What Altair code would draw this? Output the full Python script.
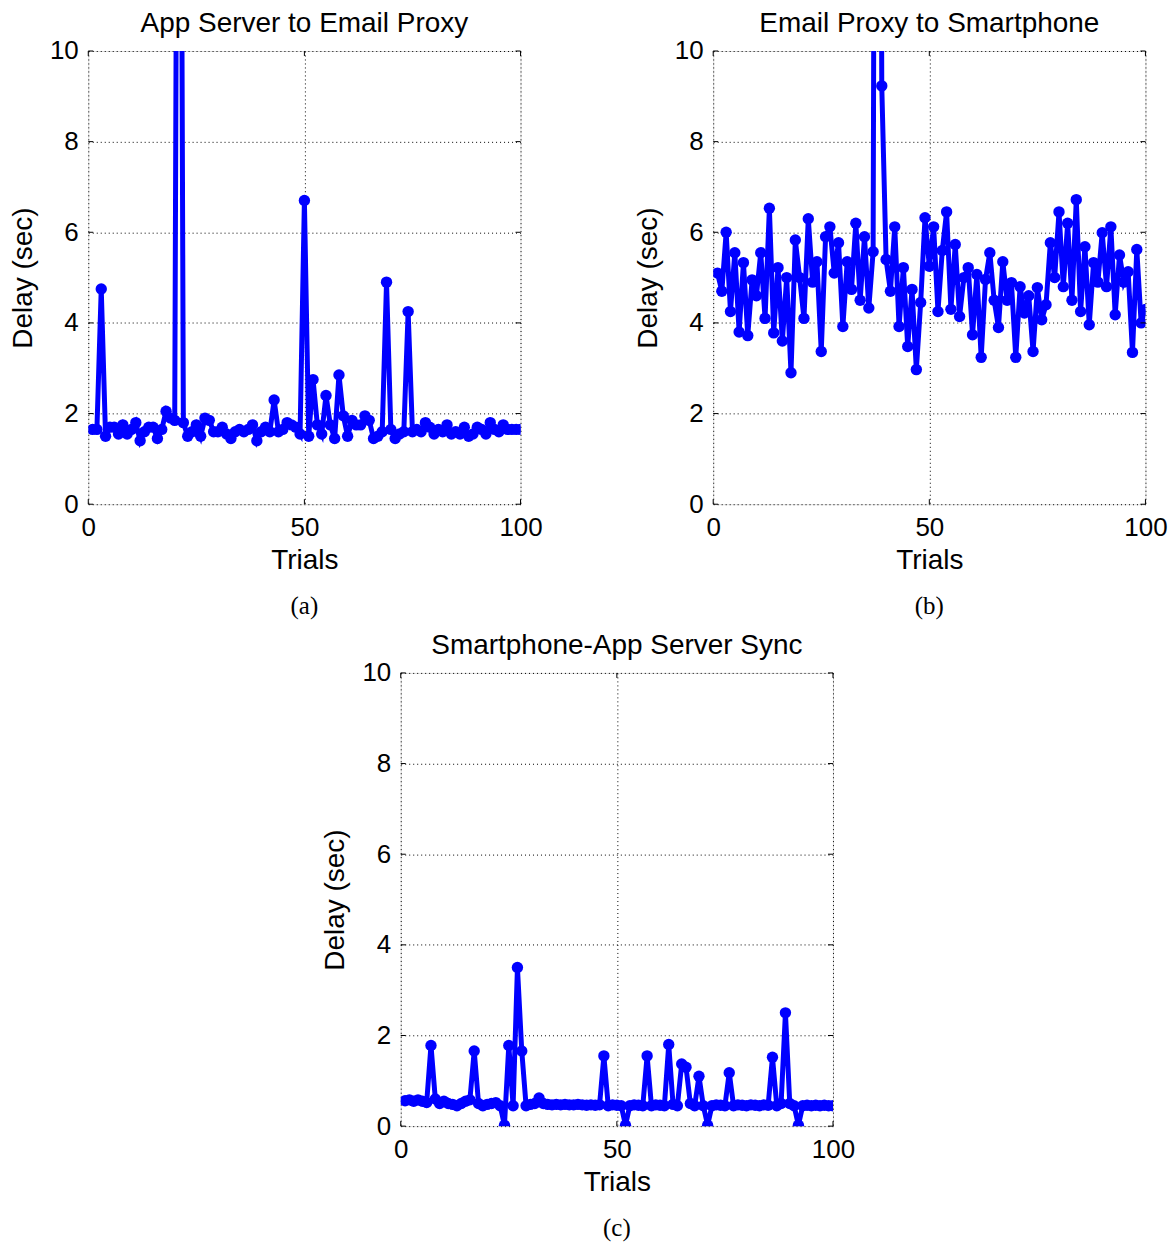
import altair as alt
import pandas as pd

trials = list(range(1, 101))

delay_a = [1.65, 1.65, 4.75, 1.5, 1.7, 1.7, 1.55, 1.75, 1.55, 1.65,
           1.8, 1.4, 1.6, 1.7, 1.7, 1.45, 1.65, 2.05, 1.9, 1.85,
           28.0, 1.8, 1.5, 1.6, 1.75, 1.5, 1.9, 1.85, 1.6, 1.6,
           1.7, 1.55, 1.45, 1.6, 1.65, 1.6, 1.65, 1.75, 1.4, 1.6,
           1.7, 1.6, 2.3, 1.6, 1.65, 1.8, 1.75, 1.7, 1.55, 6.7,
           1.5, 2.75, 1.75, 1.55, 2.4, 1.75, 1.45, 2.85, 1.95, 1.5,
           1.85, 1.75, 1.75, 1.95, 1.85, 1.45, 1.5, 1.6, 4.9, 1.65,
           1.45, 1.55, 1.6, 4.25, 1.6, 1.65, 1.6, 1.8, 1.7, 1.55,
           1.65, 1.6, 1.75, 1.55, 1.6, 1.55, 1.7, 1.5, 1.55, 1.7,
           1.65, 1.55, 1.8, 1.65, 1.6, 1.75, 1.65, 1.65, 1.65, 1.65]

delay_b = [5.1, 4.7, 6.0, 4.25, 5.55, 3.8, 5.33, 3.72, 4.95, 4.6,
           5.55, 4.1, 6.53, 3.78, 5.22, 3.6, 5.0, 2.9, 5.83, 5.0,
           4.1, 6.3, 4.9, 5.35, 3.37, 5.9, 6.12, 5.1, 5.77, 3.92,
           5.35, 4.74, 6.2, 4.5, 5.9, 4.33, 5.57, 40.0, 9.23, 5.4,
           4.7, 6.12, 3.92, 5.22, 3.48, 4.74, 2.97, 4.45, 6.32, 5.25,
           6.12, 4.25, 5.6, 6.45, 4.3, 5.73, 4.14, 5.0, 5.22, 3.74,
           5.07, 3.24, 4.96, 5.55, 4.5, 3.9, 5.35, 4.5, 4.89, 3.24,
           4.8, 4.22, 4.6, 3.37, 4.78, 4.07, 4.4, 5.77, 5.0, 6.45,
           4.8, 6.2, 4.5, 6.72, 4.25, 5.68, 3.96, 5.33, 4.9, 5.99,
           4.8, 6.12, 4.18, 5.5, 4.9, 5.13, 3.35, 5.62, 4.0, 4.3]

delay_c = [0.56, 0.58, 0.55, 0.58, 0.55, 0.52, 1.78, 0.6, 0.5, 0.55,
           0.5, 0.48, 0.45, 0.5, 0.55, 0.58, 1.66, 0.5, 0.45, 0.48,
           0.5, 0.52, 0.45, 0.02, 1.78, 0.45, 3.5, 1.66, 0.45, 0.48,
           0.5, 0.62, 0.5, 0.48, 0.47, 0.48, 0.47, 0.48, 0.47, 0.47,
           0.48, 0.47, 0.46, 0.47, 0.46, 0.47, 1.55, 0.45, 0.47, 0.46,
           0.45, 0.02, 0.45, 0.47, 0.46, 0.45, 1.55, 0.45, 0.47, 0.46,
           0.45, 1.8, 0.48, 0.45, 1.37, 1.3, 0.5, 0.45, 1.1, 0.45,
           0.02, 0.45, 0.47, 0.46, 0.45, 1.18, 0.45, 0.47, 0.46, 0.45,
           0.47, 0.46, 0.45, 0.47, 0.46, 1.52, 0.45, 0.5, 2.5, 0.5,
           0.45, 0.02, 0.45, 0.46, 0.45, 0.46, 0.45, 0.46, 0.45, 0.45]

titles = ["App Server to Email Proxy", "Email Proxy to Smartphone",
          "Smartphone-App Server Sync"]
captions = ["(a)", "(b)", "(c)"]
y_ticks = [0, 2, 4, 6, 8, 10]
x_ticks = [0, 50, 100]

W, H = 433, 454
FONT = "Liberation Sans"
BLUE = "#0000ff"


def panel(values, title, caption):
    df = pd.DataFrame({"trial": trials, "delay": values})
    xs = alt.Scale(domain=[0, 100], nice=False, zero=False)
    ys = alt.Scale(domain=[0, 10], nice=False)
    x_axis = alt.Axis(values=x_ticks, grid=True, gridColor="black",
                      gridDash=[1, 3], gridWidth=1, domain=False, ticks=False,
                      labelFont=FONT, labelFontSize=26, labelColor="black",
                      labelPadding=10, titleFont=FONT, titleFontSize=28,
                      titleFontWeight="normal", titleColor="black",
                      titlePadding=6, labelFlush=False)
    y_axis = alt.Axis(values=y_ticks, grid=True, gridColor="black",
                      gridDash=[1, 3], gridWidth=1, domain=False, ticks=False,
                      labelFont=FONT, labelFontSize=26, labelColor="black",
                      labelPadding=10, titleFont=FONT, titleFontSize=28,
                      titleFontWeight="normal", titleColor="black",
                      titlePadding=12, labelFlush=False)
    base = alt.Chart(df)
    line = base.mark_line(color=BLUE, strokeWidth=5, clip=True).encode(
        x=alt.X("trial:Q", scale=xs, title="Trials", axis=x_axis),
        y=alt.Y("delay:Q", scale=ys, title="Delay (sec)", axis=y_axis),
    )
    pts = base.mark_circle(color=BLUE, size=130, opacity=1, clip=True).encode(
        x="trial:Q", y="delay:Q"
    )
    ytdf = pd.DataFrame({"yt": y_ticks})
    xtdf = pd.DataFrame({"xt": x_ticks})
    yl = alt.Chart(ytdf).mark_rule(color="black", strokeWidth=1).encode(
        y="yt:Q", x=alt.value(0), x2=alt.value(5))
    yr = alt.Chart(ytdf).mark_rule(color="black", strokeWidth=1).encode(
        y="yt:Q", x=alt.value(W - 5), x2=alt.value(W))
    xb = alt.Chart(xtdf).mark_rule(color="black", strokeWidth=1).encode(
        x="xt:Q", y=alt.value(H - 5), y2=alt.value(H))
    xtp = alt.Chart(xtdf).mark_rule(color="black", strokeWidth=1).encode(
        x="xt:Q", y=alt.value(0), y2=alt.value(5))
    cap = alt.Chart(pd.DataFrame({"cap": [caption]})).mark_text(
        font="Liberation Serif", fontSize=25, color="black", baseline="middle"
    ).encode(text="cap:N", x=alt.value(W / 2), y=alt.value(H + 102))
    return alt.layer(line, pts, yl, yr, xb, xtp, cap).properties(
        width=W, height=H,
        title=alt.TitleParams(title, font=FONT, fontSize=28,
                              fontWeight="normal", color="black", offset=0,
                              anchor="middle"),
    )


pa = panel(delay_a, titles[0], captions[0])
pb = panel(delay_b, titles[1], captions[1])
pc = panel(delay_c, titles[2], captions[2])

top = alt.hconcat(pa, pb, spacing=90)
chart = alt.vconcat(top, pc, spacing=11, center=True).properties(
    padding={"left": 0, "top": 0, "right": 0, "bottom": 0}
).configure_view(stroke="black", strokeWidth=1).configure(background="white")

chart.save("out.html", embed_options={"renderer": "svg", "actions": False})
